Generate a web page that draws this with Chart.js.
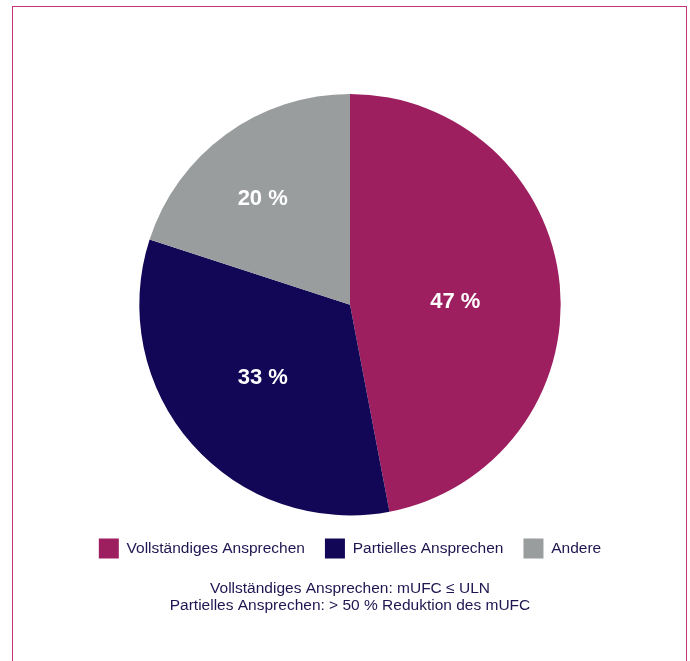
<!DOCTYPE html>
<html lang="de">
<head>
<meta charset="utf-8">
<title>Ansprechen auf die Behandlung</title>
<script src="https://cdn.jsdelivr.net/npm/chart.js@4/dist/chart.umd.min.js"></script>
<style>
  html, body { margin: 0; padding: 0; background: #ffffff; }
  #wrap { position: relative; width: 690px; height: 661px; overflow: hidden; }
  #frame {
    position: absolute; left: 12px; top: 6px; width: 675px; height: 700px;
    border: 1.5px solid #c2347c; box-sizing: border-box;
  }
  #chart { position: absolute; left: 0; top: 0; }
</style>
</head>
<body>
<div id="wrap">
  <div id="frame"></div>
  <canvas id="chart" width="690" height="661"></canvas>
</div>
<script>
// Response categories and their shares (%)
const categories = ['Vollständiges Ansprechen', 'Partielles Ansprechen', 'Andere'];
const shares = [47, 33, 20];
const sliceColors = ['#9e1f60', '#120656', '#9a9d9e'];
const footnote = [
  'Vollständiges Ansprechen: mUFC ≤ ULN',
  'Partielles Ansprechen: > 50 % Reduktion des mUFC'
];

const textColor = '#1e1650';
const fontFamily = '"Liberation Sans", Arial, Helvetica, sans-serif';

// Writes "NN %" inside each slice
const sliceLabels = {
  id: 'sliceLabels',
  afterDatasetsDraw(chart, args, opts) {
    const ctx = chart.ctx;
    const meta = chart.getDatasetMeta(0);
    ctx.save();
    ctx.fillStyle = '#ffffff';
    ctx.font = 'bold 22px ' + fontFamily;
    ctx.textAlign = 'center';
    ctx.textBaseline = 'middle';
    meta.data.forEach((arc, i) => {
      const p = arc.getProps(['x', 'y', 'startAngle', 'endAngle', 'outerRadius'], true);
      const mid = (p.startAngle + p.endAngle) / 2 + (opts.angleShift[i] || 0) * Math.PI / 180;
      const r = p.outerRadius * opts.radial[i];
      const value = chart.data.datasets[0].data[i];
      ctx.fillText(value + ' %', p.x + Math.cos(mid) * r, p.y + Math.sin(mid) * r);
    });
    ctx.restore();
  }
};

new Chart(document.getElementById('chart'), {
  type: 'pie',
  data: {
    labels: categories,
    datasets: [{
      data: shares,
      backgroundColor: sliceColors,
      borderWidth: 0
    }]
  },
  options: {
    responsive: false,
    animation: false,
    layout: { padding: { top: 94, left: 10, right: 0, bottom: 47 } },
    plugins: {
      tooltip: { enabled: false },
      legend: {
        position: 'bottom',
        // blank spacer above the legend row
        title: { display: true, text: ' ', padding: 0, font: { size: 2.5 } },
        labels: {
          boxWidth: 20,
          boxHeight: 20,
          padding: 20,
          color: textColor,
          font: { family: fontFamily, size: 15.5 }
        }
      },
      subtitle: {
        display: true,
        position: 'bottom',
        text: footnote,
        color: textColor,
        font: { family: fontFamily, size: 15.5, lineHeight: 1.1, weight: 'normal' },
        padding: { top: 11.5, bottom: 0 }
      },
      sliceLabels: {
        radial: [0.5, 0.54, 0.65],
        angleShift: [4, 1.5, -3.6]
      }
    }
  },
  plugins: [sliceLabels]
});
</script>
</body>
</html>
